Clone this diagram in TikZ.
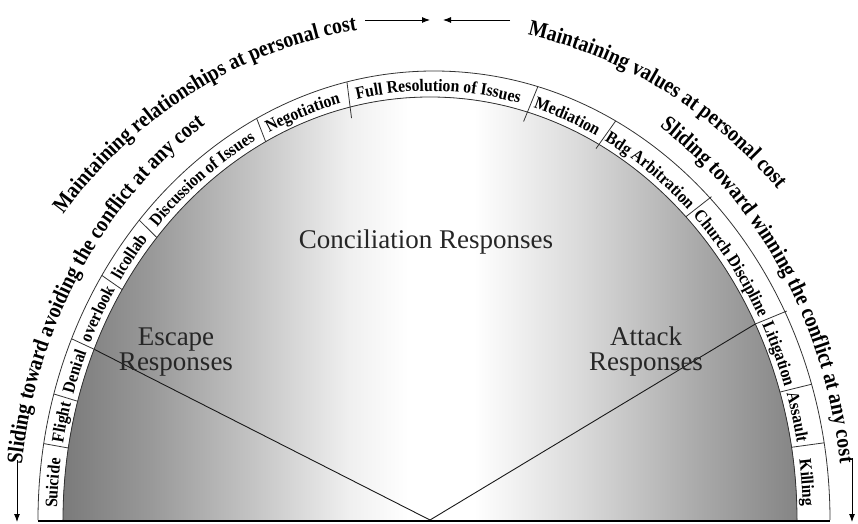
\documentclass[tikz,border=0pt]{standalone}
\usepackage{fontspec}
\setmainfont{Liberation Serif}
\newfontfamily\narrowserif[FakeStretch=0.9]{Liberation Serif}
\newfontfamily\arcserif[FakeStretch=0.88]{Liberation Serif}
\usetikzlibrary{decorations.text,arrows.meta}
\newcommand{\lblfont}{\narrowserif\bfseries\fontsize{17.5}{17.5}\selectfont}
\newcommand{\arcfont}{\arcserif\bfseries\fontsize{22.5}{22.5}\selectfont}
\pgfdeclarehorizontalshading{dome}{100bp}{color(0bp)=(black!52); color(25bp)=(black!52);
  color(31bp)=(black!40); color(38bp)=(black!23); color(44.5bp)=(black!6);
  color(48.5bp)=(white); color(53bp)=(white); color(60bp)=(black!14);
  color(68.5bp)=(black!34); color(75bp)=(black!48); color(100bp)=(black!48)}
% label set along the band, between two angles
\newcommand{\bandlbl}[3]{%
  \pgfmathsetmacro\lblA{#1+2}\pgfmathsetmacro\lblB{#2-2}%
  \path[decorate,decoration={text along path,text align=center,text={|\lblfont|#3}}]
    (\lblA:373pt and 429pt) arc[start angle=\lblA,end angle=\lblB,x radius=373pt,y radius=429pt];}

\begin{document}
\begin{tikzpicture}[x=1pt,y=1pt,
    every node/.style={font=\fontsize{27}{25}\selectfont,text=black!85},
    rim/.style={line width=0.8pt,draw=black!80},
    pointer/.style={line width=0.9pt,-{Latex[length=8pt,width=6pt]}}]
  \useasboundingbox (-430,-3) rectangle (428,520);
  \fill[shading=dome]
    (-367,0) arc[start angle=180,end angle=0,x radius=367pt,y radius=423pt] -- cycle;
  \coordinate (c) at (0,0);
  \coordinate (esc) at (156.2:367pt and 423pt);
  \coordinate (att) at (27.6:367pt and 423pt);
  \draw[rim,draw=black!90,line width=0.9pt] (esc) -- (c) -- (att);
  \draw[rim] (-367,0) arc[start angle=180,end angle=0,x radius=367pt,y radius=423pt];
  \draw[rim] (-392,0) arc[start angle=180,end angle=0,x radius=396pt,y radius=449pt];
  \draw[line width=1.2pt] (-392,-1) -- (400,-1);
  % dividers of the band
  \draw[rim] (170.2:367pt and 423pt) -- ([xshift=4pt]170.2:396pt and 449pt)
    (163.7:367pt and 423pt) -- ([xshift=4pt]163.7:396pt and 449pt)
    (156.2:367pt and 423pt) -- ([xshift=4pt]156.2:396pt and 449pt)
    (147:367pt and 423pt) -- ([xshift=4pt]147:396pt and 449pt)
    (138.1:367pt and 423pt) -- ([xshift=4pt]138.1:396pt and 449pt)
    (116.6:367pt and 423pt) -- ([xshift=4pt]116.6:396pt and 449pt)
    (102.7:357pt and 412pt) -- ([xshift=4pt]102.7:396pt and 449pt)
    (74.8:357pt and 413pt) -- ([xshift=4pt]74.8:396pt and 449pt)
    (62.7:362pt and 418pt) -- ([xshift=4pt]62.7:396pt and 449pt)
    (45.8:367pt and 423pt) -- ([xshift=4pt]45.8:398pt and 451pt)
    (27.6:367pt and 423pt) -- ([xshift=4pt]27.6:398pt and 451pt)
    (17.6:367pt and 423pt) -- ([xshift=4pt]17.6:396pt and 449pt)
    (9.9:367pt and 423pt) -- ([xshift=4pt]9.9:396pt and 449pt);
  \bandlbl{180}{170.2}{Suicide}
  \bandlbl{170.2}{163.7}{Flight}
  \bandlbl{163.7}{156.2}{Denial}
  \bandlbl{156.2}{147}{overlook}
  \bandlbl{147}{138.1}{licollab}
  \bandlbl{138.1}{116.6}{Discussion of Issues}
  \bandlbl{116.6}{102.7}{Negotiation}
  \bandlbl{102.7}{74.8}{Full Resolution of Issues}
  \bandlbl{74.8}{62.7}{Mediation}
  \bandlbl{62.7}{45.8}{Bdg Arbitration}
  \bandlbl{45.8}{27.6}{Church Discipline}
  \bandlbl{27.6}{17.6}{Litigation}
  \bandlbl{17.6}{9.9}{Assault}
  \bandlbl{9.9}{0}{Killing}
  % texts round the outside
  \path[decorate,decoration={text along path,text align=center,
      text={|\arcfont|Sliding toward avoiding the conflict at any cost}}]
    ([xshift=5pt]180.5:416pt and 474pt) arc[start angle=180.5,end angle=115.6,x radius=416pt,y radius=474pt];
  \path[decorate,decoration={text along path,text align=center,
      text={|\arcfont|Sliding toward winning the conflict at any cost}}]
    ([xshift=-3pt]63.8:416pt and 474pt) arc[start angle=63.8,end angle=-0.2,x radius=416pt,y radius=474pt];
  \path[decorate,decoration={text along path,text align=center,
      text={|\arcfont|Maintaining relationships at personal cost}}]
    (150:466pt and 496pt) arc[start angle=150,end angle=90.6,x radius=466pt,y radius=496pt];
  \path[decorate,decoration={text along path,text align=center,
      text={|\arcfont|Maintaining values at personal cost}}]
    (86:466pt and 496pt) arc[start angle=86,end angle=34,x radius=466pt,y radius=496pt];
  \node[anchor=base] (concil) at (-4,272) {Conciliation Responses};
  \node[align=center] (escape) at (-254,168) {Escape\\Responses};
  \node[align=center] (attack) at (216,168) {Attack\\Responses};
  \coordinate (tl0) at (-65,500); \coordinate (tl1) at (0,500);
  \coordinate (tr0) at (80,500); \coordinate (tr1) at (13,500);
  \coordinate (bl0) at (-413,60); \coordinate (bl1) at (-413,-2);
  \coordinate (br0) at (422,62); \coordinate (br1) at (422,-2);
  \draw[pointer] (tl0) -- (tl1);
  \draw[pointer] (tr0) -- (tr1);
  \draw[pointer] (bl0) -- (bl1);
  \draw[pointer] (br0) -- (br1);
\end{tikzpicture}
\end{document}
